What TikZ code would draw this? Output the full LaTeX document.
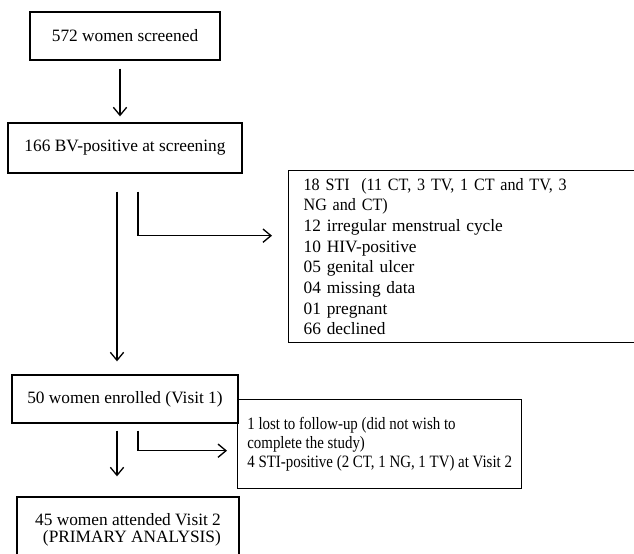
\documentclass[tikz,border=0pt]{standalone}
\usepackage{fontspec}
\setmainfont{Liberation Serif}
\newfontfamily\narrowserif{Liberation Serif}[FakeStretch=0.86]
\newfontfamily\tightserif{Liberation Serif}[FakeStretch=0.93]
\usetikzlibrary{arrows.meta,positioning,calc}
\newcommand{\flowfont}{\fontsize{13}{15.5}\selectfont}
\tikzset{
    block/.style = {draw, rectangle, line width=1pt,
        minimum height=36pt,
        minimum width=142.5pt, align=center, font=\flowfont},
    note/.style = {draw, rectangle, line width=1pt,
        anchor=north west, inner xsep=6pt, align=left, font=\flowfont},
    arrow/.style = {draw, line width=1pt, -{Straight Barb[length=6pt,width=10pt]}}
}

\begin{document}
\begin{tikzpicture}[x=0.75pt, y=-0.75pt]
    \fill [white] (0,0) rectangle (634,553);
    \useasboundingbox (0,0) rectangle (634,553);
    \node [block] (screen) at (125,36) {572 women screened};
    \node [block, below of=screen, node distance=84pt, minimum width=175.5pt, minimum height=37.5pt] (bvpos) {166 BV-positive at screening};
    \draw [arrow, shorten <=6pt, shorten >=4.5pt] ([xshift=-3.75pt]screen.south) -- ([xshift=-3.75pt]bvpos.north);
    \node [note, text width=247.5pt, inner xsep=11.25pt, minimum height=129pt] (excl) at (288,170) {{\tightserif 18 STI\ \ (11 CT, 3 TV, 1 CT and TV, 3}\\{\tightserif NG and CT)}\\12 irregular menstrual cycle\\10 HIV-positive\\05 genital ulcer\\04 missing data\\01 pregnant\\66 declined};
    \draw [arrow, shorten <=13.5pt, shorten >=12pt] ([xshift=9.75pt]bvpos.south) |- ([yshift=15.75pt]excl.west);
    \node [block, below of=bvpos, node distance=188.25pt, minimum width=169.5pt] (enr) {50 women enrolled (Visit 1)};
    \draw [arrow, shorten <=13.5pt, shorten >=9.75pt] ([xshift=-6pt]bvpos.south) -- ([xshift=-6pt]enr.north);
    \node [note, minimum width=213pt, minimum height=66.75pt, font=\narrowserif\fontsize{13}{14.5}\selectfont] (loss) at (237,399) {1 lost to follow-up (did not wish to\\complete the study)\\4 STI-positive (2 CT, 1 NG, 1 TV) at Visit 2};
    \draw [arrow, shorten <=5.25pt, shorten >=7.5pt] ([xshift=9.75pt]enr.south) |- ([yshift=-4.9pt]loss.west);
    \node [block, below of=enr, node distance=98.25pt, xshift=2.25pt, minimum width=166.5pt, minimum height=49.5pt, align=right, font=\fontsize{13}{12.5}\selectfont] (prim) {45 women attended Visit 2\\(PRIMARY ANALYSIS)};
    \draw [arrow, shorten <=5.25pt, shorten >=15pt] ([xshift=-6pt]enr.south) -- ([xshift=-6pt]enr.south |- prim.north);
\end{tikzpicture}
\end{document}
